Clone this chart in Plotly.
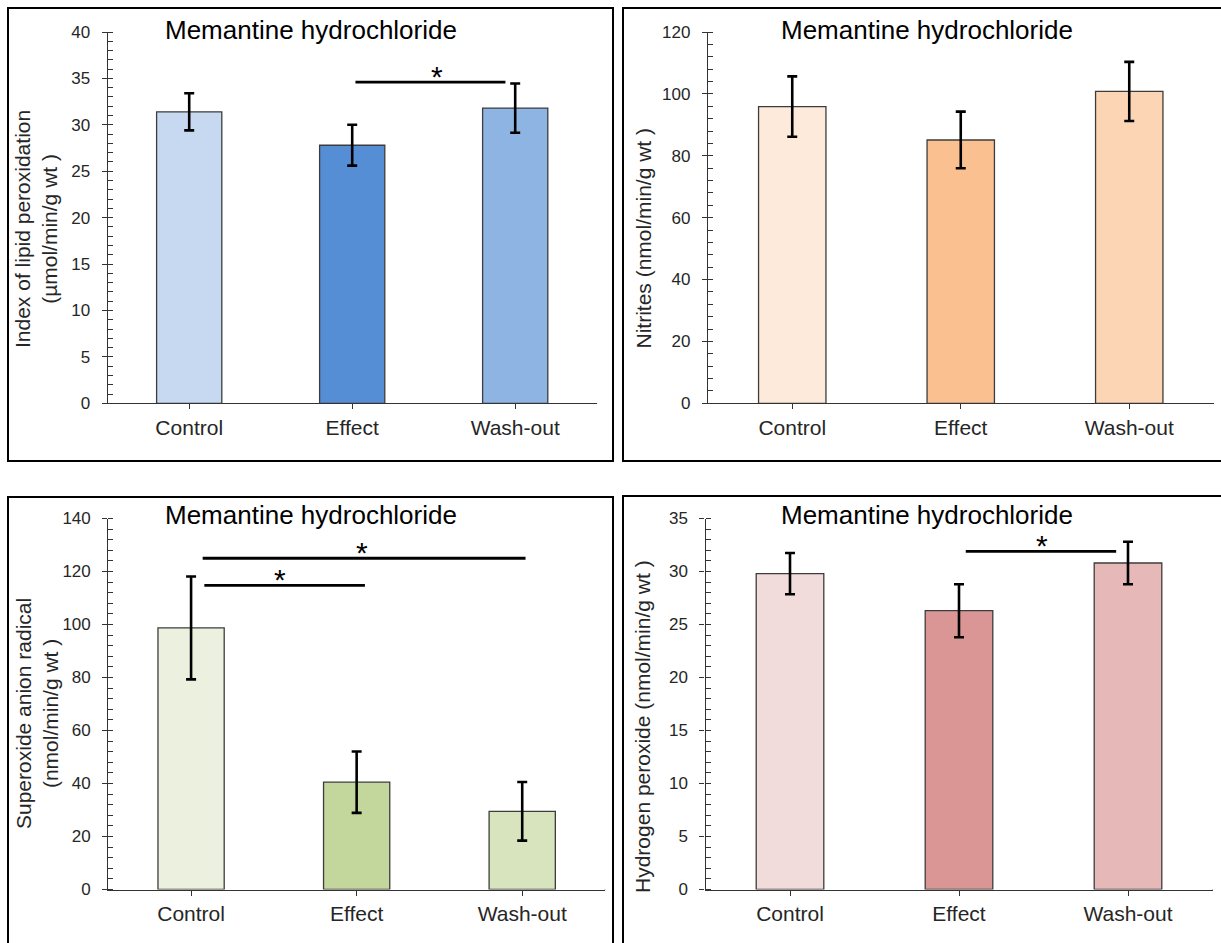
import plotly.graph_objects as go

W, H = 1221, 943

# ---------------- data ----------------
categories = ["Control", "Effect", "Wash-out"]
x_positions = [0, 1, 2]

lipid_values = [31.4, 27.8, 31.8]
lipid_errors = [2.0, 2.2, 2.65]
nitrite_values = [95.9, 85.1, 100.8]
nitrite_errors = [9.75, 9.15, 9.55]
superoxide_values = [98.7, 40.5, 29.5]
superoxide_errors = [19.4, 11.6, 11.05]
h2o2_values = [29.8, 26.3, 30.8]
h2o2_errors = [1.95, 2.5, 2.0]

lipid_colors = ["#C6D9F1", "#558ED5", "#8EB4E3"]
nitrite_colors = ["#FDEADA", "#FAC090", "#FCD5B5"]
superoxide_colors = ["#EBF1DE", "#C3D69B", "#D7E4BD"]
h2o2_colors = ["#F2DCDB", "#D99694", "#E6B9B8"]

panel_title = "Memantine hydrochloride"
y_titles = [
    "Index of lipid peroxidation<br>(µmol/min/g wt )",
    "Nitrites (nmol/min/g wt )",
    "Superoxide anion radical<br>(nmol/min/g wt )",
    "Hydrogen peroxide (nmol/min/g wt )",
]
y_max = [40, 120, 140, 35]
y_major = [5, 20, 20, 5]
y_minor = [1, 4, 4, 1]

# significance brackets
sig_panel = [0, 2, 2, 3]
sig_x0 = [1.02, 0.07, 0.08, 1.04]
sig_x1 = [1.94, 2.02, 1.05, 1.93]
sig_y = [34.6, 125.0, 114.8, 31.9]
sig_star_x = [1.52, 1.03, 0.54, 1.49]

# ---------------- layout (target screen pixels) ----------------
plot_boxes = [(107.7, 596.7, 31, 402.3), (708, 1213.5, 31, 402.3),
              (108.3, 605, 517.5, 888.5), (705.5, 1212.5, 517.5, 888.5)]
border_boxes = [(8, 613, 7, 460), (623, 1240, 7, 460),
                (8, 613, 496, 970), (623, 1240, 495, 970)]
title_pos = [(311, 28.5), (927, 28.5), (311, 514), (927, 514)]
ytitle_pos = [(36, 228), (643, 237.5), (37, 713), (642, 726)]

FONT = "Liberation Sans, Arial, sans-serif"
AXIS_COLOR = "#333333"

# plot area of the paper as observed on screen
PAPER_TOP, PAPER_H = 8.0, 924.0


def px(p):
    return p / W


def py(p):
    return 1 - (p - PAPER_TOP) / PAPER_H


values = [lipid_values, nitrite_values, superoxide_values, h2o2_values]
errors = [lipid_errors, nitrite_errors, superoxide_errors, h2o2_errors]
colors = [lipid_colors, nitrite_colors, superoxide_colors, h2o2_colors]

fig = go.Figure()
annotations = []
shapes = []
layout_axes = {}

for i in range(4):
    sfx = "" if i == 0 else str(i + 1)
    xa, ya = "x" + sfx, "y" + sfx
    fig.add_trace(go.Bar(
        x=x_positions, y=values[i], width=0.4,
        marker=dict(color=colors[i], line=dict(color="#3c3c3c", width=1.3)),
        error_y=dict(type="data", array=errors[i], color="black",
                     thickness=2.6, width=5),
        xaxis=xa, yaxis=ya, showlegend=False, hoverinfo="skip",
    ))
    x0, x1, yt, yb = plot_boxes[i]
    layout_axes["xaxis" + sfx] = dict(
        domain=[px(x0), px(x1)], anchor=ya, range=[-0.5, 2.5],
        tickvals=x_positions, ticktext=categories,
        showline=True, linecolor=AXIS_COLOR, linewidth=1.3,
        ticks="outside", ticklen=5, tickwidth=1.3, tickcolor=AXIS_COLOR,
        showgrid=False, zeroline=False, fixedrange=True,
        tickfont=dict(family=FONT, size=21, color="#262626"),
        ticklabelstandoff=0,
    )
    layout_axes["yaxis" + sfx] = dict(
        domain=[py(yb), py(yt)], anchor=xa, range=[0, y_max[i]],
        tick0=0, dtick=y_major[i],
        showline=True, linecolor=AXIS_COLOR, linewidth=1.3,
        ticks="outside", ticklen=5, tickwidth=1.3, tickcolor=AXIS_COLOR,
        minor=dict(tick0=1e-9, dtick=y_minor[i], ticks="inside", ticklen=5,
                   tickwidth=1.3, tickcolor=AXIS_COLOR, showgrid=False),
        showgrid=False, zeroline=False, fixedrange=True,
        tickfont=dict(family=FONT, size=17, color="#262626"),
        ticklabelstandoff=8,
    )
    shapes.append(dict(type="line", xref=xa + " domain", yref=ya,
                       ysizemode="pixel", yanchor=0,
                       x0=1, x1=1, y0=0, y1=-5,
                       line=dict(color=AXIS_COLOR, width=1.3)))
    bx0, bx1, by0, by1 = border_boxes[i]
    shapes.append(dict(type="rect", xref="paper", yref="paper",
                       x0=px(bx0), x1=px(bx1), y0=py(by1), y1=py(by0),
                       line=dict(color="black", width=2),
                       fillcolor="rgba(0,0,0,0)", layer="above"))
    tx, ty = title_pos[i]
    annotations.append(dict(text=panel_title, xref="paper", yref="paper",
                            x=px(tx), y=py(ty), xanchor="center", yanchor="middle",
                            showarrow=False,
                            font=dict(family=FONT, size=26, color="black")))
    ax_, ay_ = ytitle_pos[i]
    annotations.append(dict(text=y_titles[i], xref="paper", yref="paper",
                            x=px(ax_), y=py(ay_), xanchor="center", yanchor="middle",
                            textangle=-90, showarrow=False,
                            font=dict(family=FONT, size=21, color="#262626")))

for k in range(len(sig_panel)):
    i = sig_panel[k]
    sfx = "" if i == 0 else str(i + 1)
    fig.add_trace(go.Scatter(
        x=[sig_x0[k], sig_x1[k]], y=[sig_y[k], sig_y[k]], mode="lines",
        line=dict(color="black", width=2.8), xaxis="x" + sfx, yaxis="y" + sfx,
        showlegend=False, hoverinfo="skip",
    ))
    annotations.append(dict(text="*", xref="x" + sfx, yref="y" + sfx,
                            x=sig_star_x[k], y=sig_y[k], xanchor="center",
                            yanchor="middle", yshift=6, showarrow=False,
                            font=dict(family=FONT, size=30, color="black")))

fig.update_layout(
    width=W, height=H, margin=dict(l=0, r=0, t=0, b=0),
    paper_bgcolor="white", plot_bgcolor="white",
    annotations=annotations, shapes=shapes, bargap=0.6,
    **layout_axes,
)

fig.write_html("out.html", config={"displayModeBar": False},
               post_script="document.body.style.margin='0';document.body.style.overflow='hidden';")
